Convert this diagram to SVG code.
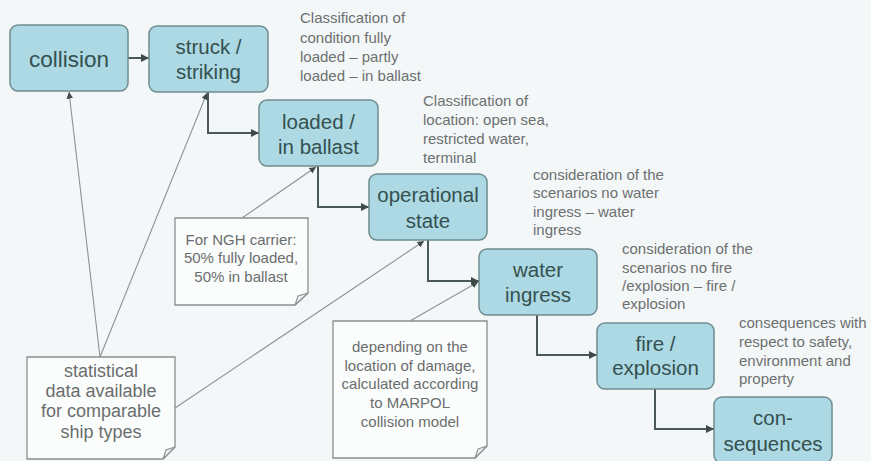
<svg xmlns="http://www.w3.org/2000/svg" width="871" height="461" viewBox="0 0 871 461">
<defs>
<style>
.box{fill:#acd9e3;stroke:#6f8c90;stroke-width:1.5}
.bt{font-family:"Liberation Sans",Arial,sans-serif;font-size:20.5px;fill:#35504f;text-anchor:middle}
.note{fill:#fbfcfc;stroke:#8a8f90;stroke-width:1.3}
.fold{fill:#eef1f2;stroke:#8a8f90;stroke-width:1.1}
.nt{font-family:"Liberation Sans",Arial,sans-serif;font-size:15px;fill:#6a6e6e;text-anchor:middle}
.at{font-family:"Liberation Sans",Arial,sans-serif;font-size:15px;fill:#6c7070}
.flow{fill:none;stroke:#4b5858;stroke-width:2}
.thin{fill:none;stroke:#8e9292;stroke-width:1.1}
</style>
<marker id="ah" viewBox="0 0 10 10" refX="10" refY="5" markerWidth="4" markerHeight="4" orient="auto" markerUnits="strokeWidth">
<path d="M0,0 L10,5 L0,10 Z" fill="#3e4a4a"/>
</marker>
<marker id="ah2" viewBox="0 0 10 10" refX="10" refY="5" markerWidth="6" markerHeight="6" orient="auto" markerUnits="strokeWidth">
<path d="M0,0 L10,5 L0,10 Z" fill="#3e4a4a"/>
</marker>
</defs>
<rect width="871" height="461" fill="#f4f7f8"/>

<g id="connectors">
<path class="flow" d="M128,58 H149" marker-end="url(#ah)"/>
<path class="flow" d="M208,92 V133 H259" marker-end="url(#ah)"/>
<path class="flow" d="M318,166 V207 H369" marker-end="url(#ah)"/>
<path class="flow" d="M428,240 V281 H479" marker-end="url(#ah)"/>
<path class="flow" d="M537,315 V355 H597" marker-end="url(#ah)"/>
<path class="flow" d="M655,389 V429 H714" marker-end="url(#ah)"/>
<path class="thin" d="M100,357 L69,92" marker-end="url(#ah2)"/>
<path class="thin" d="M100,357 L207,93" marker-end="url(#ah2)"/>
<path class="thin" d="M175,408 L424,241" marker-end="url(#ah2)"/>
<path class="thin" d="M242,218 L316,167" marker-end="url(#ah2)"/>
<path class="thin" d="M410,321 L478,282" marker-end="url(#ah2)"/>
</g>

<g id="collision">
<rect class="box" x="10" y="25" width="118" height="66" rx="8"/>
<text class="bt" x="69" y="67" style="font-size:22.5px">collision</text>
</g>
<g id="struck">
<rect class="box" x="149" y="26" width="119" height="66" rx="8"/>
<text class="bt" x="208.5" y="54">struck /</text>
<text class="bt" x="208.5" y="79">striking</text>
</g>
<g id="loaded">
<rect class="box" x="259" y="100" width="119" height="66" rx="8"/>
<text class="bt" x="318.5" y="129">loaded /</text>
<text class="bt" x="318.5" y="154">in ballast</text>
</g>
<g id="operational">
<rect class="box" x="369" y="174" width="118" height="66" rx="8"/>
<text class="bt" x="428" y="202">operational</text>
<text class="bt" x="428" y="228">state</text>
</g>
<g id="water">
<rect class="box" x="479" y="249" width="118" height="66" rx="8"/>
<text class="bt" x="538" y="277">water</text>
<text class="bt" x="538" y="302">ingress</text>
</g>
<g id="fire">
<rect class="box" x="597" y="323" width="117" height="66" rx="8"/>
<text class="bt" x="655.5" y="351">fire /</text>
<text class="bt" x="655.5" y="375">explosion</text>
</g>
<g id="consequences">
<rect class="box" x="714" y="397" width="118" height="66" rx="8"/>
<text class="bt" x="773" y="425">con-</text>
<text class="bt" x="773" y="451">sequences</text>
</g>

<g id="note-ngh">
<path class="note" d="M175,218 H308 V293 L295,305 H175 Z"/>
<path class="fold" d="M295,305 L298,296 L308,293 Z"/>
<text class="nt" x="241" y="245">For NGH carrier:</text>
<text class="nt" x="241" y="263">50% fully loaded,</text>
<text class="nt" x="241" y="282">50% in ballast</text>
</g>
<g id="note-statistical">
<path class="note" d="M27,357 H175 V447 L163,459 H27 Z"/>
<path class="fold" d="M163,459 L166,450 L175,447 Z"/>
<text class="nt" x="101" y="377" style="font-size:18px">statistical</text>
<text class="nt" x="101" y="397" style="font-size:18px">data available</text>
<text class="nt" x="101" y="417" style="font-size:18px">for comparable</text>
<text class="nt" x="101" y="438" style="font-size:18px">ship types</text>
</g>
<g id="note-marpol">
<path class="note" d="M333,321 H487 V446 L475,458 H333 Z"/>
<path class="fold" d="M475,458 L478,449 L487,446 Z"/>
<text class="nt" x="410" y="352">depending on the</text>
<text class="nt" x="410" y="371">location of damage,</text>
<text class="nt" x="410" y="389">calculated according</text>
<text class="nt" x="410" y="408">to MARPOL</text>
<text class="nt" x="410" y="427">collision model</text>
</g>

<g id="annotation-condition">
<text class="at" x="300" y="23">Classification of</text>
<text class="at" x="300" y="43">condition fully</text>
<text class="at" x="300" y="62">loaded – partly</text>
<text class="at" x="300" y="81">loaded – in ballast</text>
</g>
<g id="annotation-location">
<text class="at" x="423" y="106">Classification of</text>
<text class="at" x="423" y="125">location: open sea,</text>
<text class="at" x="423" y="144">restricted water,</text>
<text class="at" x="423" y="163">terminal</text>
</g>
<g id="annotation-water">
<text class="at" x="533" y="180">consideration of the</text>
<text class="at" x="533" y="198">scenarios no water</text>
<text class="at" x="533" y="217">ingress – water</text>
<text class="at" x="533" y="235">ingress</text>
</g>
<g id="annotation-fire">
<text class="at" x="622" y="254">consideration of the</text>
<text class="at" x="622" y="273">scenarios no fire</text>
<text class="at" x="622" y="291">/explosion – fire /</text>
<text class="at" x="622" y="309">explosion</text>
</g>
<g id="annotation-consequences">
<text class="at" x="739" y="328">consequences with</text>
<text class="at" x="739" y="347">respect to safety,</text>
<text class="at" x="739" y="366">environment and</text>
<text class="at" x="739" y="384">property</text>
</g>
</svg>
